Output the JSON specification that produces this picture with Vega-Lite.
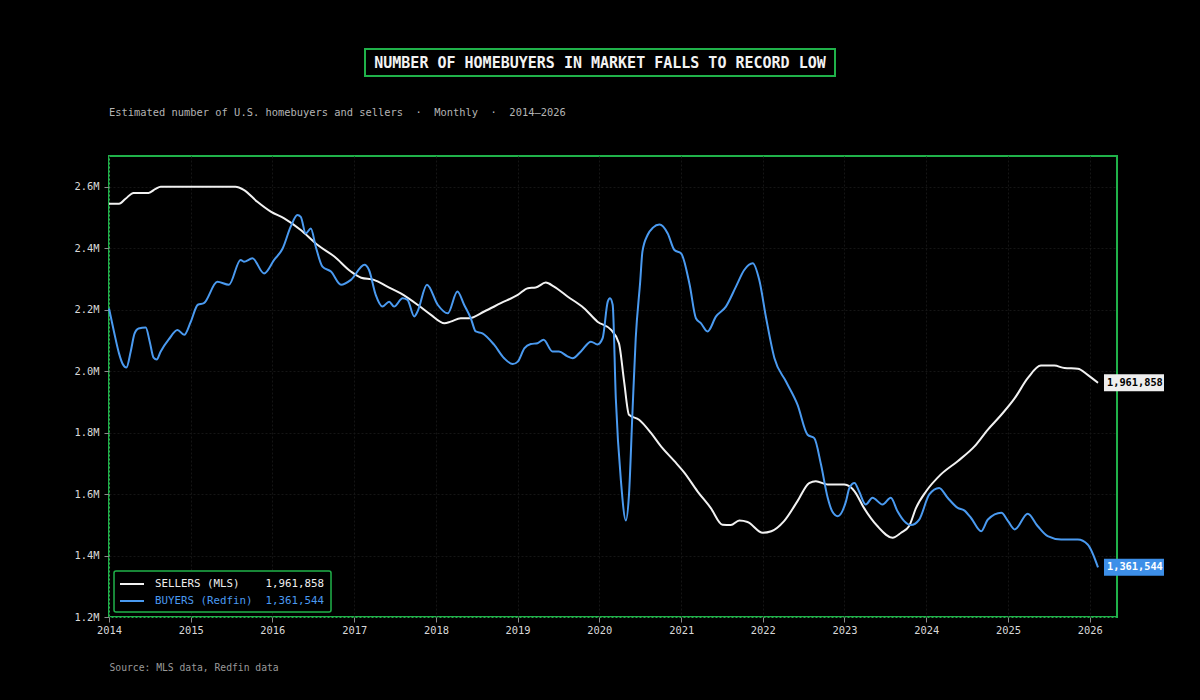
{
  "$schema": "https://vega.github.io/schema/vega-lite/v6.json",
  "background": "#000000",
  "padding": {"left": 72, "top": 48, "right": 35, "bottom": 26},
  "spacing": 29,
  "center": true,
  "resolve": {"scale": {"color": "independent"}, "legend": {"color": "independent"}},
  "datasets": {
    "homes": [
      {"series": "SELLERS (MLS)", "date": "2014-01-01", "value": 2545000},
      {"series": "SELLERS (MLS)", "date": "2014-02-15", "value": 2545000},
      {"series": "SELLERS (MLS)", "date": "2014-03-16", "value": 2561000},
      {"series": "SELLERS (MLS)", "date": "2014-04-21", "value": 2580000},
      {"series": "SELLERS (MLS)", "date": "2014-06-27", "value": 2580000},
      {"series": "SELLERS (MLS)", "date": "2014-07-28", "value": 2593000},
      {"series": "SELLERS (MLS)", "date": "2014-08-20", "value": 2600000},
      {"series": "SELLERS (MLS)", "date": "2015-02-16", "value": 2600000},
      {"series": "SELLERS (MLS)", "date": "2015-07-20", "value": 2600000},
      {"series": "SELLERS (MLS)", "date": "2015-08-26", "value": 2590000},
      {"series": "SELLERS (MLS)", "date": "2015-10-26", "value": 2551000},
      {"series": "SELLERS (MLS)", "date": "2015-12-25", "value": 2519000},
      {"series": "SELLERS (MLS)", "date": "2016-02-23", "value": 2497000},
      {"series": "SELLERS (MLS)", "date": "2016-05-07", "value": 2459000},
      {"series": "SELLERS (MLS)", "date": "2016-07-20", "value": 2411000},
      {"series": "SELLERS (MLS)", "date": "2016-10-04", "value": 2373000},
      {"series": "SELLERS (MLS)", "date": "2016-12-17", "value": 2324000},
      {"series": "SELLERS (MLS)", "date": "2017-02-01", "value": 2304000},
      {"series": "SELLERS (MLS)", "date": "2017-03-30", "value": 2297000},
      {"series": "SELLERS (MLS)", "date": "2017-05-29", "value": 2275000},
      {"series": "SELLERS (MLS)", "date": "2017-07-28", "value": 2253000},
      {"series": "SELLERS (MLS)", "date": "2017-10-11", "value": 2216000},
      {"series": "SELLERS (MLS)", "date": "2017-12-10", "value": 2183000},
      {"series": "SELLERS (MLS)", "date": "2018-02-08", "value": 2156000},
      {"series": "SELLERS (MLS)", "date": "2018-03-08", "value": 2161000},
      {"series": "SELLERS (MLS)", "date": "2018-04-22", "value": 2172000},
      {"series": "SELLERS (MLS)", "date": "2018-05-29", "value": 2172000},
      {"series": "SELLERS (MLS)", "date": "2018-08-05", "value": 2194000},
      {"series": "SELLERS (MLS)", "date": "2018-10-18", "value": 2221000},
      {"series": "SELLERS (MLS)", "date": "2019-01-02", "value": 2248000},
      {"series": "SELLERS (MLS)", "date": "2019-02-16", "value": 2270000},
      {"series": "SELLERS (MLS)", "date": "2019-03-23", "value": 2272000},
      {"series": "SELLERS (MLS)", "date": "2019-05-07", "value": 2288000},
      {"series": "SELLERS (MLS)", "date": "2019-06-13", "value": 2275000},
      {"series": "SELLERS (MLS)", "date": "2019-08-12", "value": 2243000},
      {"series": "SELLERS (MLS)", "date": "2019-10-25", "value": 2205000},
      {"series": "SELLERS (MLS)", "date": "2019-12-24", "value": 2161000},
      {"series": "SELLERS (MLS)", "date": "2020-02-23", "value": 2134000},
      {"series": "SELLERS (MLS)", "date": "2020-03-29", "value": 2091000},
      {"series": "SELLERS (MLS)", "date": "2020-04-21", "value": 1967000},
      {"series": "SELLERS (MLS)", "date": "2020-05-13", "value": 1858000},
      {"series": "SELLERS (MLS)", "date": "2020-06-27", "value": 1842000},
      {"series": "SELLERS (MLS)", "date": "2020-08-19", "value": 1799000},
      {"series": "SELLERS (MLS)", "date": "2020-10-03", "value": 1755000},
      {"series": "SELLERS (MLS)", "date": "2020-12-02", "value": 1707000},
      {"series": "SELLERS (MLS)", "date": "2021-01-16", "value": 1669000},
      {"series": "SELLERS (MLS)", "date": "2021-03-15", "value": 1609000},
      {"series": "SELLERS (MLS)", "date": "2021-05-13", "value": 1555000},
      {"series": "SELLERS (MLS)", "date": "2021-07-05", "value": 1500000},
      {"series": "SELLERS (MLS)", "date": "2021-08-11", "value": 1499000},
      {"series": "SELLERS (MLS)", "date": "2021-09-18", "value": 1514000},
      {"series": "SELLERS (MLS)", "date": "2021-10-25", "value": 1509000},
      {"series": "SELLERS (MLS)", "date": "2022-01-01", "value": 1474000},
      {"series": "SELLERS (MLS)", "date": "2022-02-08", "value": 1479000},
      {"series": "SELLERS (MLS)", "date": "2022-04-06", "value": 1512000},
      {"series": "SELLERS (MLS)", "date": "2022-06-05", "value": 1577000},
      {"series": "SELLERS (MLS)", "date": "2022-07-27", "value": 1636000},
      {"series": "SELLERS (MLS)", "date": "2022-08-26", "value": 1642000},
      {"series": "SELLERS (MLS)", "date": "2022-10-18", "value": 1631000},
      {"series": "SELLERS (MLS)", "date": "2023-01-01", "value": 1631000},
      {"series": "SELLERS (MLS)", "date": "2023-02-15", "value": 1609000},
      {"series": "SELLERS (MLS)", "date": "2023-03-29", "value": 1555000},
      {"series": "SELLERS (MLS)", "date": "2023-05-28", "value": 1496000},
      {"series": "SELLERS (MLS)", "date": "2023-08-04", "value": 1458000},
      {"series": "SELLERS (MLS)", "date": "2023-09-11", "value": 1474000},
      {"series": "SELLERS (MLS)", "date": "2023-10-17", "value": 1496000},
      {"series": "SELLERS (MLS)", "date": "2023-11-17", "value": 1555000},
      {"series": "SELLERS (MLS)", "date": "2024-01-01", "value": 1609000},
      {"series": "SELLERS (MLS)", "date": "2024-03-07", "value": 1664000},
      {"series": "SELLERS (MLS)", "date": "2024-05-21", "value": 1707000},
      {"series": "SELLERS (MLS)", "date": "2024-08-04", "value": 1755000},
      {"series": "SELLERS (MLS)", "date": "2024-10-03", "value": 1810000},
      {"series": "SELLERS (MLS)", "date": "2024-12-02", "value": 1858000},
      {"series": "SELLERS (MLS)", "date": "2025-01-31", "value": 1912000},
      {"series": "SELLERS (MLS)", "date": "2025-03-30", "value": 1977000},
      {"series": "SELLERS (MLS)", "date": "2025-05-28", "value": 2018000},
      {"series": "SELLERS (MLS)", "date": "2025-07-27", "value": 2018000},
      {"series": "SELLERS (MLS)", "date": "2025-09-10", "value": 2010000},
      {"series": "SELLERS (MLS)", "date": "2025-11-09", "value": 2008000},
      {"series": "SELLERS (MLS)", "date": "2025-12-23", "value": 1988000},
      {"series": "SELLERS (MLS)", "date": "2026-02-07", "value": 1961858},
      {"series": "BUYERS (Redfin)", "date": "2014-01-01", "value": 2204000},
      {"series": "BUYERS (Redfin)", "date": "2014-01-23", "value": 2129000},
      {"series": "BUYERS (Redfin)", "date": "2014-02-15", "value": 2057000},
      {"series": "BUYERS (Redfin)", "date": "2014-03-02", "value": 2025000},
      {"series": "BUYERS (Redfin)", "date": "2014-03-20", "value": 2012000},
      {"series": "BUYERS (Redfin)", "date": "2014-04-08", "value": 2064000},
      {"series": "BUYERS (Redfin)", "date": "2014-04-25", "value": 2122000},
      {"series": "BUYERS (Redfin)", "date": "2014-05-13", "value": 2139000},
      {"series": "BUYERS (Redfin)", "date": "2014-06-14", "value": 2142000},
      {"series": "BUYERS (Redfin)", "date": "2014-07-02", "value": 2096000},
      {"series": "BUYERS (Redfin)", "date": "2014-07-19", "value": 2044000},
      {"series": "BUYERS (Redfin)", "date": "2014-08-02", "value": 2038000},
      {"series": "BUYERS (Redfin)", "date": "2014-08-20", "value": 2064000},
      {"series": "BUYERS (Redfin)", "date": "2014-09-25", "value": 2103000},
      {"series": "BUYERS (Redfin)", "date": "2014-11-03", "value": 2134000},
      {"series": "BUYERS (Redfin)", "date": "2014-12-03", "value": 2118000},
      {"series": "BUYERS (Redfin)", "date": "2015-01-01", "value": 2160000},
      {"series": "BUYERS (Redfin)", "date": "2015-02-02", "value": 2216000},
      {"series": "BUYERS (Redfin)", "date": "2015-03-01", "value": 2221000},
      {"series": "BUYERS (Redfin)", "date": "2015-04-30", "value": 2291000},
      {"series": "BUYERS (Redfin)", "date": "2015-06-21", "value": 2281000},
      {"series": "BUYERS (Redfin)", "date": "2015-08-12", "value": 2362000},
      {"series": "BUYERS (Redfin)", "date": "2015-08-27", "value": 2356000},
      {"series": "BUYERS (Redfin)", "date": "2015-10-04", "value": 2367000},
      {"series": "BUYERS (Redfin)", "date": "2015-11-25", "value": 2318000},
      {"series": "BUYERS (Redfin)", "date": "2016-01-09", "value": 2362000},
      {"series": "BUYERS (Redfin)", "date": "2016-02-16", "value": 2399000},
      {"series": "BUYERS (Redfin)", "date": "2016-03-23", "value": 2470000},
      {"series": "BUYERS (Redfin)", "date": "2016-04-22", "value": 2508000},
      {"series": "BUYERS (Redfin)", "date": "2016-05-07", "value": 2502000},
      {"series": "BUYERS (Redfin)", "date": "2016-05-29", "value": 2448000},
      {"series": "BUYERS (Redfin)", "date": "2016-06-21", "value": 2464000},
      {"series": "BUYERS (Redfin)", "date": "2016-07-13", "value": 2405000},
      {"series": "BUYERS (Redfin)", "date": "2016-08-12", "value": 2340000},
      {"series": "BUYERS (Redfin)", "date": "2016-09-19", "value": 2324000},
      {"series": "BUYERS (Redfin)", "date": "2016-11-03", "value": 2281000},
      {"series": "BUYERS (Redfin)", "date": "2016-12-17", "value": 2297000},
      {"series": "BUYERS (Redfin)", "date": "2017-02-16", "value": 2346000},
      {"series": "BUYERS (Redfin)", "date": "2017-03-08", "value": 2329000},
      {"series": "BUYERS (Redfin)", "date": "2017-04-07", "value": 2248000},
      {"series": "BUYERS (Redfin)", "date": "2017-05-07", "value": 2210000},
      {"series": "BUYERS (Redfin)", "date": "2017-06-06", "value": 2226000},
      {"series": "BUYERS (Redfin)", "date": "2017-06-28", "value": 2210000},
      {"series": "BUYERS (Redfin)", "date": "2017-08-05", "value": 2237000},
      {"series": "BUYERS (Redfin)", "date": "2017-08-27", "value": 2232000},
      {"series": "BUYERS (Redfin)", "date": "2017-09-26", "value": 2178000},
      {"series": "BUYERS (Redfin)", "date": "2017-10-11", "value": 2194000},
      {"series": "BUYERS (Redfin)", "date": "2017-11-22", "value": 2281000},
      {"series": "BUYERS (Redfin)", "date": "2018-01-09", "value": 2216000},
      {"series": "BUYERS (Redfin)", "date": "2018-02-23", "value": 2188000},
      {"series": "BUYERS (Redfin)", "date": "2018-04-07", "value": 2259000},
      {"series": "BUYERS (Redfin)", "date": "2018-05-07", "value": 2216000},
      {"series": "BUYERS (Redfin)", "date": "2018-06-06", "value": 2172000},
      {"series": "BUYERS (Redfin)", "date": "2018-06-28", "value": 2129000},
      {"series": "BUYERS (Redfin)", "date": "2018-07-28", "value": 2123000},
      {"series": "BUYERS (Redfin)", "date": "2018-09-18", "value": 2086000},
      {"series": "BUYERS (Redfin)", "date": "2018-11-02", "value": 2042000},
      {"series": "BUYERS (Redfin)", "date": "2018-12-10", "value": 2023000},
      {"series": "BUYERS (Redfin)", "date": "2019-01-02", "value": 2031000},
      {"series": "BUYERS (Redfin)", "date": "2019-02-01", "value": 2075000},
      {"series": "BUYERS (Redfin)", "date": "2019-03-01", "value": 2088000},
      {"series": "BUYERS (Redfin)", "date": "2019-03-31", "value": 2091000},
      {"series": "BUYERS (Redfin)", "date": "2019-04-27", "value": 2102000},
      {"series": "BUYERS (Redfin)", "date": "2019-06-06", "value": 2064000},
      {"series": "BUYERS (Redfin)", "date": "2019-07-05", "value": 2064000},
      {"series": "BUYERS (Redfin)", "date": "2019-08-12", "value": 2048000},
      {"series": "BUYERS (Redfin)", "date": "2019-09-04", "value": 2042000},
      {"series": "BUYERS (Redfin)", "date": "2019-10-11", "value": 2064000},
      {"series": "BUYERS (Redfin)", "date": "2019-11-25", "value": 2096000},
      {"series": "BUYERS (Redfin)", "date": "2019-12-24", "value": 2087000},
      {"series": "BUYERS (Redfin)", "date": "2020-01-16", "value": 2107000},
      {"series": "BUYERS (Redfin)", "date": "2020-02-08", "value": 2226000},
      {"series": "BUYERS (Redfin)", "date": "2020-02-18", "value": 2237000},
      {"series": "BUYERS (Redfin)", "date": "2020-03-01", "value": 2216000},
      {"series": "BUYERS (Redfin)", "date": "2020-03-15", "value": 1912000},
      {"series": "BUYERS (Redfin)", "date": "2020-04-07", "value": 1642000},
      {"series": "BUYERS (Redfin)", "date": "2020-04-29", "value": 1514000},
      {"series": "BUYERS (Redfin)", "date": "2020-05-13", "value": 1599000},
      {"series": "BUYERS (Redfin)", "date": "2020-05-28", "value": 1858000},
      {"series": "BUYERS (Redfin)", "date": "2020-06-12", "value": 2107000},
      {"series": "BUYERS (Redfin)", "date": "2020-07-02", "value": 2291000},
      {"series": "BUYERS (Redfin)", "date": "2020-07-12", "value": 2389000},
      {"series": "BUYERS (Redfin)", "date": "2020-08-04", "value": 2443000},
      {"series": "BUYERS (Redfin)", "date": "2020-08-28", "value": 2467000},
      {"series": "BUYERS (Redfin)", "date": "2020-09-26", "value": 2477000},
      {"series": "BUYERS (Redfin)", "date": "2020-11-02", "value": 2448000},
      {"series": "BUYERS (Redfin)", "date": "2020-12-02", "value": 2394000},
      {"series": "BUYERS (Redfin)", "date": "2021-01-01", "value": 2383000},
      {"series": "BUYERS (Redfin)", "date": "2021-02-08", "value": 2281000},
      {"series": "BUYERS (Redfin)", "date": "2021-03-08", "value": 2172000},
      {"series": "BUYERS (Redfin)", "date": "2021-03-30", "value": 2156000},
      {"series": "BUYERS (Redfin)", "date": "2021-04-29", "value": 2129000},
      {"series": "BUYERS (Redfin)", "date": "2021-06-06", "value": 2178000},
      {"series": "BUYERS (Redfin)", "date": "2021-07-20", "value": 2210000},
      {"series": "BUYERS (Redfin)", "date": "2021-09-03", "value": 2275000},
      {"series": "BUYERS (Redfin)", "date": "2021-10-10", "value": 2329000},
      {"series": "BUYERS (Redfin)", "date": "2021-11-17", "value": 2351000},
      {"series": "BUYERS (Redfin)", "date": "2021-12-16", "value": 2297000},
      {"series": "BUYERS (Redfin)", "date": "2022-01-16", "value": 2172000},
      {"series": "BUYERS (Redfin)", "date": "2022-02-22", "value": 2042000},
      {"series": "BUYERS (Redfin)", "date": "2022-04-14", "value": 1967000},
      {"series": "BUYERS (Redfin)", "date": "2022-06-05", "value": 1891000},
      {"series": "BUYERS (Redfin)", "date": "2022-07-20", "value": 1793000},
      {"series": "BUYERS (Redfin)", "date": "2022-08-19", "value": 1782000},
      {"series": "BUYERS (Redfin)", "date": "2022-09-18", "value": 1696000},
      {"series": "BUYERS (Redfin)", "date": "2022-10-18", "value": 1588000},
      {"series": "BUYERS (Redfin)", "date": "2022-11-07", "value": 1544000},
      {"series": "BUYERS (Redfin)", "date": "2022-12-02", "value": 1528000},
      {"series": "BUYERS (Redfin)", "date": "2023-01-08", "value": 1577000},
      {"series": "BUYERS (Redfin)", "date": "2023-01-23", "value": 1620000},
      {"series": "BUYERS (Redfin)", "date": "2023-02-15", "value": 1636000},
      {"series": "BUYERS (Redfin)", "date": "2023-03-07", "value": 1609000},
      {"series": "BUYERS (Redfin)", "date": "2023-04-06", "value": 1566000},
      {"series": "BUYERS (Redfin)", "date": "2023-05-06", "value": 1588000},
      {"series": "BUYERS (Redfin)", "date": "2023-06-20", "value": 1566000},
      {"series": "BUYERS (Redfin)", "date": "2023-07-27", "value": 1588000},
      {"series": "BUYERS (Redfin)", "date": "2023-08-26", "value": 1544000},
      {"series": "BUYERS (Redfin)", "date": "2023-09-25", "value": 1512000},
      {"series": "BUYERS (Redfin)", "date": "2023-10-25", "value": 1499000},
      {"series": "BUYERS (Redfin)", "date": "2023-12-01", "value": 1517000},
      {"series": "BUYERS (Redfin)", "date": "2024-01-15", "value": 1599000},
      {"series": "BUYERS (Redfin)", "date": "2024-02-28", "value": 1620000},
      {"series": "BUYERS (Redfin)", "date": "2024-04-06", "value": 1588000},
      {"series": "BUYERS (Redfin)", "date": "2024-05-21", "value": 1555000},
      {"series": "BUYERS (Redfin)", "date": "2024-06-19", "value": 1547000},
      {"series": "BUYERS (Redfin)", "date": "2024-07-19", "value": 1523000},
      {"series": "BUYERS (Redfin)", "date": "2024-09-03", "value": 1479000},
      {"series": "BUYERS (Redfin)", "date": "2024-10-03", "value": 1517000},
      {"series": "BUYERS (Redfin)", "date": "2024-12-02", "value": 1539000},
      {"series": "BUYERS (Redfin)", "date": "2025-01-01", "value": 1512000},
      {"series": "BUYERS (Redfin)", "date": "2025-01-31", "value": 1485000},
      {"series": "BUYERS (Redfin)", "date": "2025-03-30", "value": 1536000},
      {"series": "BUYERS (Redfin)", "date": "2025-05-13", "value": 1496000},
      {"series": "BUYERS (Redfin)", "date": "2025-06-27", "value": 1463000},
      {"series": "BUYERS (Redfin)", "date": "2025-08-26", "value": 1452000},
      {"series": "BUYERS (Redfin)", "date": "2025-11-09", "value": 1452000},
      {"series": "BUYERS (Redfin)", "date": "2025-12-23", "value": 1436000},
      {"series": "BUYERS (Redfin)", "date": "2026-02-07", "value": 1361544}
    ]
  },
  "vconcat": [
    {
      "width": 470,
      "height": 27,
      "data": {"values": [{"headline": "NUMBER OF HOMEBUYERS IN MARKET FALLS TO RECORD LOW"}]},
      "layer": [
        {"mark": {"type": "rect", "fill": "#000000", "stroke": "#20b24a", "strokeWidth": 2}},
        {
          "mark": {"type": "text", "font": "DejaVu Sans Mono", "fontSize": 15, "fontWeight": "bold", "color": "#f2f2f2"},
          "encoding": {"text": {"field": "headline", "type": "nominal"}}
        },
        {
          "mark": {"type": "text", "text": "\u00a0", "opacity": 0, "align": "left", "dx": 309, "fontSize": 10},
          "encoding": {}
        }
      ]
    },
    {
      "width": 1008,
      "height": 461,
      "data": {"name": "homes"},
      "title": {
        "text": "Estimated number of U.S. homebuyers and sellers\u00a0\u00a0·\u00a0\u00a0Monthly\u00a0\u00a0·\u00a0\u00a02014–2026",
        "anchor": "start",
        "frame": "group",
        "font": "DejaVu Sans Mono",
        "fontSize": 10.4,
        "fontWeight": "normal",
        "color": "#b4b4b4",
        "offset": 38
      },
      "encoding": {
        "x": {
          "field": "date",
          "type": "temporal",
          "scale": {"domain": [{"year": 2014, "month": 1, "date": 1}, {"year": 2026, "month": 5, "date": 3}]},
          "axis": {
            "format": "%Y",
            "tickCount": {"interval": "year", "step": 1},
            "labelPadding": 3,
            "labelFlush": false,
            "grid": true,
            "title": "Source: MLS data, Redfin data",
            "titleAnchor": "start",
            "titleAlign": "left",
            "titleFontSize": 9.7,
            "titleFontWeight": "normal",
            "titleColor": "#9a9a9a",
            "titlePadding": 27
          }
        },
        "y": {
          "field": "value",
          "type": "quantitative",
          "scale": {"domain": [1200000, 2700000], "nice": false, "zero": false},
          "axis": {
            "values": [1200000, 1400000, 1600000, 1800000, 2000000, 2200000, 2400000, 2600000],
            "labelExpr": "format(datum.value / 1000000, '.1f') + 'M'",
            "labelPadding": 5,
            "labelFlush": false,
            "grid": true,
            "title": null
          }
        }
      },
      "layer": [
        {
          "mark": {"type": "line", "strokeWidth": 2, "interpolate": "monotone"},
          "encoding": {
            "color": {
              "field": "series",
              "type": "nominal",
              "scale": {"domain": ["SELLERS (MLS)", "BUYERS (Redfin)"], "range": ["#f2f2f2", "#4a9af0"]},
              "legend": {
                "title": null,
                "orient": "bottom-left",
                "offset": 5,
                "padding": 6,
                "fillColor": "#000000",
                "strokeColor": "#20b24a",
                "cornerRadius": 2,
                "symbolType": "M-1.167,0H2.833",
                "symbolSize": 144,
                "symbolStrokeWidth": 2,
                "labelFont": "DejaVu Sans Mono",
                "labelFontSize": 10.8,
                "labelOffset": 21,
                "labelLimit": 400,
                "rowPadding": 5,
                "labelExpr": "datum.label === 'SELLERS (MLS)' ? 'SELLERS (MLS)\u00a0\u00a0\u00a0\u00a01,961,858' : 'BUYERS (Redfin)\u00a0\u00a01,361,544'",
                "encode": {
                  "labels": {"update": {"fill": {"signal": "datum.value === 'SELLERS (MLS)' ? '#eeeeee' : '#4a9af0'"}}},
                  "legend": {"update": {"strokeWidth": {"value": 1.5}}}
                }
              }
            }
          }
        },
        {
          "transform": [
            {"window": [{"op": "row_number", "as": "rank"}], "sort": [{"field": "date", "order": "descending"}], "groupby": ["series"]},
            {"filter": "datum.rank === 1"}
          ],
          "mark": {"type": "point", "shape": "M0.4,-0.567H4.4V0.567H0.4Z", "size": 900, "filled": true, "opacity": 1, "strokeWidth": 0},
          "encoding": {
            "fill": {"condition": {"test": "datum.series === 'SELLERS (MLS)'", "value": "#eeeeee"}, "value": "#3d8fe8"}
          }
        },
        {
          "transform": [
            {"window": [{"op": "row_number", "as": "rank"}], "sort": [{"field": "date", "order": "descending"}], "groupby": ["series"]},
            {"filter": "datum.rank === 1"}
          ],
          "mark": {"type": "text", "align": "left", "baseline": "middle", "dx": 9, "font": "DejaVu Sans Mono", "fontSize": 10.3, "fontWeight": "bold"},
          "encoding": {
            "text": {"field": "value", "type": "quantitative", "format": ","},
            "fill": {"condition": {"test": "datum.series === 'SELLERS (MLS)'", "value": "#000000"}, "value": "#ffffff"}
          }
        }
      ]
    }
  ],
  "config": {
    "view": {"stroke": "#20b24a", "strokeWidth": 2},
    "axis": {
      "labelFont": "DejaVu Sans Mono",
      "labelFontSize": 10.4,
      "labelColor": "#d8d8d8",
      "tickColor": "#8a8a8a",
      "tickSize": 5,
      "domain": false,
      "gridColor": "#151515",
      "gridDash": [2, 2],
      "gridWidth": 1,
      "titleFont": "DejaVu Sans Mono"
    }
  }
}
